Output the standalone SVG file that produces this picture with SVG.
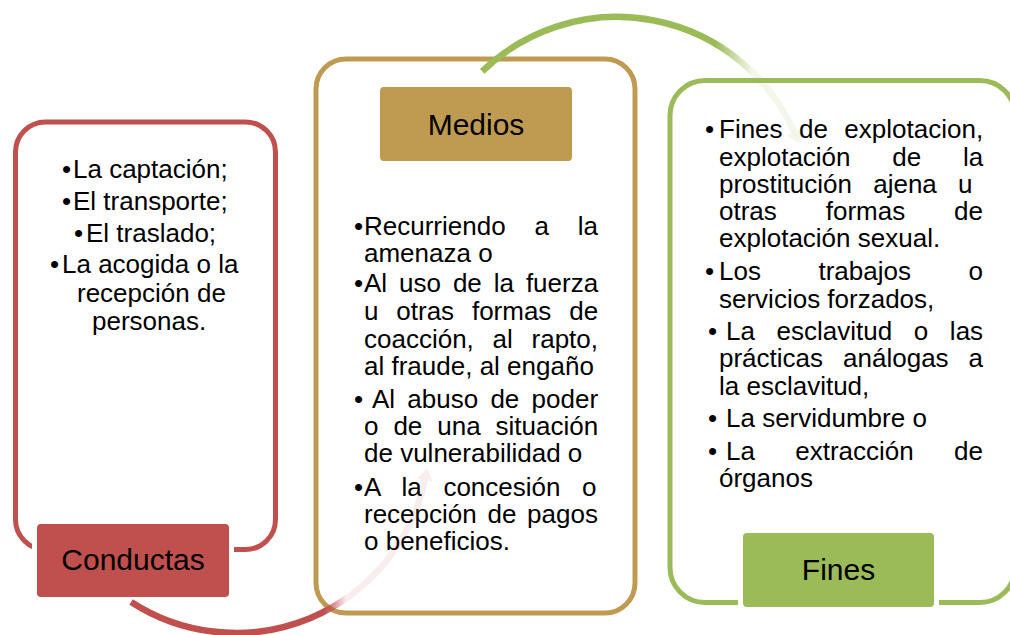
<svg xmlns="http://www.w3.org/2000/svg" width="1010" height="635" viewBox="0 0 1010 635">
<style>
.t{font-family:"Liberation Sans",Arial,Helvetica,sans-serif;font-size:26px;fill:#000}
.lbl{font-family:"Liberation Sans",Arial,Helvetica,sans-serif;font-size:30px;fill:#000;text-anchor:middle}
.box{fill:#fff;stroke-width:5}
.halo{fill:#fff}
</style>
<defs>
<linearGradient id="gRed" gradientUnits="userSpaceOnUse" x1="325" y1="0" x2="346" y2="0">
<stop offset="0" stop-color="#C0504D" stop-opacity="1"/>
<stop offset="1" stop-color="#C0504D" stop-opacity="0.1"/>
</linearGradient>
<linearGradient id="gGreen" gradientUnits="userSpaceOnUse" x1="715" y1="0" x2="752" y2="0">
<stop offset="0" stop-color="#9BBB59" stop-opacity="1"/>
<stop offset="1" stop-color="#9BBB59" stop-opacity="0.12"/>
</linearGradient>
</defs>
<rect width="1010" height="635" fill="#fff"/>

<g id="node-conductas">
<rect class="box" x="15.5" y="122" width="260" height="427.5" rx="30" stroke="#C0504D"/>
<rect class="halo" x="32" y="519" width="202" height="83" rx="6"/>
<rect x="37" y="524" width="192" height="73" rx="4" fill="#C0504D"/>
<text class="lbl" x="133" y="570">Conductas</text>
<text class="t"><tspan x="62" y="178">•</tspan><tspan x="73" y="178">La captación;</tspan></text>
<text class="t"><tspan x="62" y="210">•</tspan><tspan x="73" y="210">El transporte;</tspan></text>
<text class="t"><tspan x="74" y="242">•</tspan><tspan x="86" y="242">El traslado;</tspan></text>
<text class="t"><tspan x="50" y="273">•</tspan><tspan x="62" y="273">La acogida o la</tspan></text>
<text class="t" x="77" y="302">recepción de</text>
<text class="t" x="92" y="330">personas.</text>
</g>

<g id="node-medios">
<rect class="box" x="316" y="59" width="319" height="554" rx="30" stroke="#BF9B52"/>
<rect class="halo" x="375" y="82" width="202" height="84" rx="6"/>
<rect x="380" y="87" width="192" height="74" rx="4" fill="#BF9B52"/>
<text class="lbl" x="476" y="135">Medios</text>
<text class="t" x="354" y="235">•</text>
<text class="t" x="364" y="235" word-spacing="21.6">Recurriendo a la</text>
<text class="t" x="364" y="262">amenaza o</text>
<text class="t" x="354" y="292">•</text>
<text class="t" x="364" y="292" word-spacing="4.7">Al uso de la fuerza</text>
<text class="t" x="364" y="320" word-spacing="10.6">u otras formas de</text>
<text class="t" x="364" y="348" word-spacing="11.5">coacción, al rapto,</text>
<text class="t" x="364" y="375">al fraude, al engaño</text>
<text class="t" x="354" y="408">•</text>
<text class="t" x="372" y="408" word-spacing="5">Al abuso de poder</text>
<text class="t" x="364" y="435" word-spacing="7.7">o de una situación</text>
<text class="t" x="364" y="462">de vulnerabilidad o</text>
<text class="t" x="354" y="496">•</text>
<text class="t" x="364" y="496" word-spacing="14.4">A la concesión o</text>
<text class="t" x="364" y="523" word-spacing="3.5">recepción de pagos</text>
<text class="t" x="364" y="550">o beneficios.</text>
</g>

<g id="node-fines">
<rect class="box" x="670" y="80.5" width="345" height="522" rx="35" stroke="#9BBB59"/>
<rect class="halo" x="738" y="528" width="201" height="84" rx="6"/>
<rect x="743" y="533" width="191" height="74" rx="4" fill="#9BBB59"/>
<text class="lbl" x="838.5" y="580">Fines</text>
<text class="t" x="705" y="138">•</text>
<text class="t" x="719" y="138" word-spacing="9.2">Fines de explotacion,</text>
<text class="t" x="719" y="166" word-spacing="34.5">explotación de la</text>
<text class="t" x="719" y="193" word-spacing="14">prostitución ajena u</text>
<text class="t" x="719" y="220" word-spacing="41.7">otras formas de</text>
<text class="t" x="719" y="247">explotación sexual.</text>
<text class="t" x="705" y="280">•</text>
<text class="t" x="719" y="280" word-spacing="50.3">Los trabajos o</text>
<text class="t" x="719" y="308">servicios forzados,</text>
<text class="t" x="708" y="340">•</text>
<text class="t" x="726" y="340" word-spacing="14.4">La esclavitud o las</text>
<text class="t" x="719" y="367" word-spacing="12.8">prácticas análogas a</text>
<text class="t" x="719" y="395">la esclavitud,</text>
<text class="t" x="708" y="427">•</text>
<text class="t" x="726" y="427">La servidumbre o</text>
<text class="t" x="708" y="460">•</text>
<text class="t" x="726" y="460" word-spacing="33.1">La extracción de</text>
<text class="t" x="719" y="487">órganos</text>
</g>

<g id="connectors" fill="none">
<path d="M131.1,602 A193,193 0 0 0 424.8,480.1" stroke="url(#gRed)" stroke-width="6.5"/>
<polygon points="427.3,468.4 432.6,481.8 417,478.4" fill="#C0504D" fill-opacity="0.1"/>
<path d="M482.2,71.4 A194,194 0 0 1 794.2,132.1" stroke="url(#gGreen)" stroke-width="6.5"/>
<polygon points="799.1,143.1 801.5,128.8 786.9,135.4" fill="#9BBB59" fill-opacity="0.12"/>
</g>
</svg>
